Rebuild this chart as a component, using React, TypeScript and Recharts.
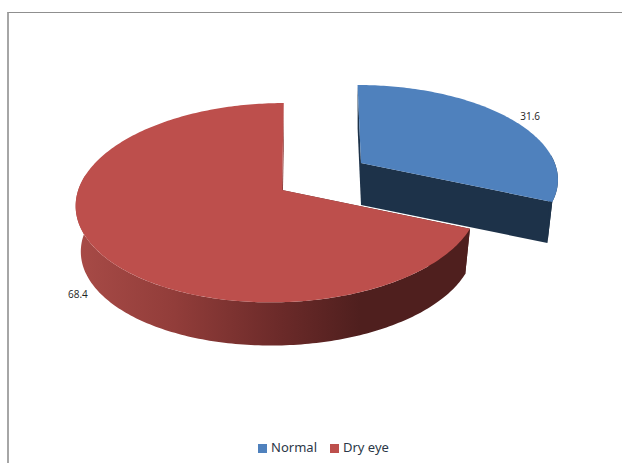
import React from 'react';
import { PieChart, Pie, Legend } from 'recharts';

const categories = ['Normal', 'Dry eye'];
const shares = [31.6, 68.4];
const colors = ['#4f81bd', '#bd4f4c'];

const chartData = categories.map((name, i) => ({ name, value: shares[i], fill: colors[i] }));

// Tilted-disc view of each slice: offset of its apex from the pie centre, vertical
// radius, perspective terms, and how the lower rim sits under the top face.
const VIEWS = [
  { dx: 79, dy: -27, ry: 90.5, rx: 0.945, k: 0.16, h: 0, skew: -4, shear: 0, depth: 42, lower: 0.975, wall: '#1d3249', rimFrom: 85, rimTo: 113.76, lowFrom: 113.76 },
  { dx: 0, dy: 0, ry: 98, rx: 0.975, k: 0.127, h: 0.022, skew: 2, shear: 2, depth: 46, lower: 0.975, wall: 'url(#redWall)', rimFrom: 113.76, rimTo: 280, lowFrom: 113.76 },
];

// bearing is measured clockwise from twelve o'clock
const project = (view: any, cx: number, cy: number, radius: number, bearing: number, scale = 1, drop = 0) => {
  const a = (bearing * Math.PI) / 180;
  const X = Math.sin(a);
  const Y = Math.cos(a);
  const d = 1 + view.k * Y + view.h * X;
  return {
    x: cx + view.dx + (scale * (radius * view.rx * X + view.skew * Y)) / d,
    y: cy + view.dy + drop - (scale * (view.ry * Y + view.shear * X)) / d,
  };
};

const toPath = (pts: { x: number; y: number }[]) =>
  pts.map((p, i) => `${i ? 'L' : 'M'}${p.x.toFixed(2)} ${p.y.toFixed(2)}`).join(' ') + ' Z';

const arc = (view: any, cx: number, cy: number, r: number, from: number, to: number, scale = 1, drop = 0) => {
  const pts = [];
  const steps = Math.max(2, Math.ceil(Math.abs(to - from)));
  for (let i = 0; i <= steps; i++) {
    pts.push(project(view, cx, cy, r, from + ((to - from) * i) / steps, scale, drop));
  }
  return pts;
};

const TiltedSlice = (props: any) => {
  const { cx, cy, outerRadius, startAngle, endAngle, fill, index } = props;
  const view = VIEWS[index];
  const from = 90 - startAngle;
  const to = 90 - endAngle;
  const apex = { x: cx + view.dx, y: cy + view.dy };
  const apexLow = { x: apex.x, y: apex.y + view.depth };
  const rimLow = (b: number) => project(view, cx, cy, outerRadius, b, view.lower, view.depth);
  const rimTop = (b: number) => project(view, cx, cy, outerRadius, b);
  return (
    <g>
      <path d={toPath([apex, rimTop(from), rimLow(from), apexLow])} fill={view.wall} />
      <path d={toPath([apex, rimTop(to), rimLow(to), apexLow])} fill={index === 0 ? view.wall : '#8e3a37'} />
      <path
        d={toPath([
          ...arc(view, cx, cy, outerRadius, view.rimFrom, view.rimTo),
          ...arc(view, cx, cy, outerRadius, view.rimTo, view.lowFrom, view.lower, view.depth),
        ])}
        fill={view.wall}
      />
      <path d={toPath([apex, ...arc(view, cx, cy, outerRadius, from, to)])} fill={fill} />
    </g>
  );
};

const SliceLabel = (props: any) => {
  const { cx, cy, outerRadius, midAngle, index, value } = props;
  const view = VIEWS[index];
  const bearing = 90 - midAngle;
  const lowerHalf = Math.cos((bearing * Math.PI) / 180) < 0;
  const rim = project(view, cx, cy, outerRadius, bearing, lowerHalf ? view.lower : 1, lowerHalf ? view.depth : 0);
  const side = Math.sin((bearing * Math.PI) / 180) > 0 ? 1 : -1;
  return (
    <text
      x={rim.x + side * (lowerHalf ? 24 : 22)}
      y={rim.y}
      textAnchor="middle"
      dominantBaseline="middle"
      fontSize={10}
      fill="#222"
      fontFamily="'Open Sans', sans-serif"
    >
      {value}
    </text>
  );
};

const App = () => (
  <div style={{ position: 'absolute', left: 0, top: 0, width: 622, height: 463, background: '#fff', overflow: 'hidden' }}>
    <div
      style={{
        position: 'absolute',
        left: 7,
        top: 12,
        width: 620,
        height: 460,
        borderLeft: '2px solid #a6a6a6',
        borderTop: '1px solid #8f8f8f',
      }}
    />
    <PieChart
      width={622}
      height={463}
      margin={{ top: 0, right: 0, bottom: 0, left: 0 }}
      style={{ position: 'absolute', left: 0, top: 0 }}
    >
      <defs>
        <linearGradient id="redWall" gradientUnits="userSpaceOnUse" x1={75} y1={0} x2={471} y2={0}>
          <stop offset="0" stopColor="#a84b47" />
          <stop offset="0.25" stopColor="#923d3a" />
          <stop offset="0.52" stopColor="#6b2a29" />
          <stop offset="0.72" stopColor="#4f1f1e" />
          <stop offset="1" stopColor="#4f1f1e" />
        </linearGradient>
      </defs>
      <Pie
        data={chartData}
        dataKey="value"
        nameKey="name"
        cx={282}
        cy={190}
        outerRadius={205}
        startAngle={90}
        endAngle={-270}
        stroke="none"
        shape={TiltedSlice}
        label={SliceLabel}
        labelLine={false}
        isAnimationActive={false}
      />
      <Legend
        iconType="square"
        iconSize={9}
        layout="horizontal"
        align="center"
        verticalAlign="bottom"
        itemSorter={null}
        wrapperStyle={{ left: 0, top: 438, width: 660, fontFamily: "'Noto Sans', sans-serif", fontSize: 13 }}
        formatter={(value: string) => <span style={{ color: '#2b3848', paddingRight: 3 }}>{value}</span>}
      />
    </PieChart>
  </div>
);

export default App;
